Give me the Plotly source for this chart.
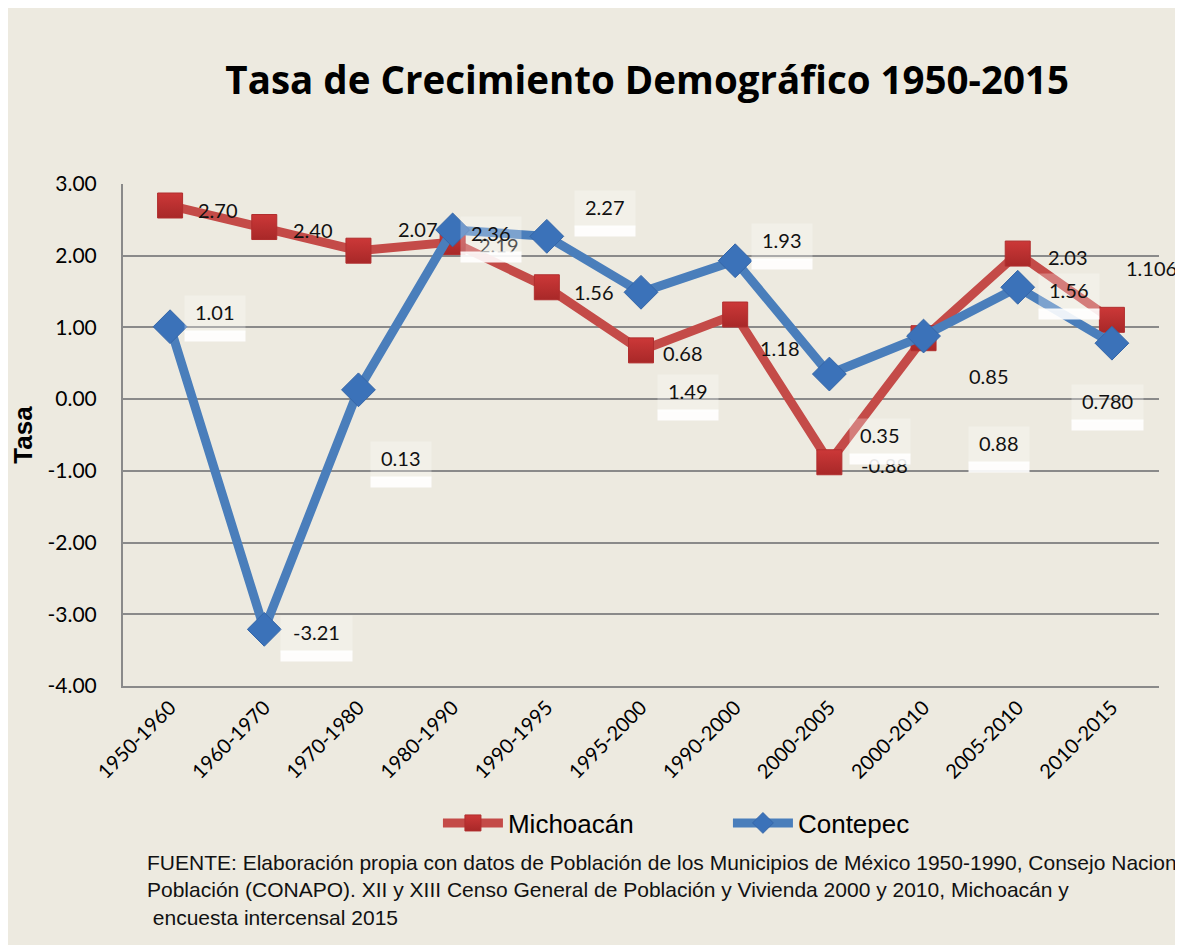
import plotly.graph_objects as go

categories = ["1950-1960", "1960-1970", "1970-1980", "1980-1990", "1990-1995",
              "1995-2000", "1990-2000", "2000-2005", "2000-2010", "2005-2010", "2010-2015"]
michoacan = [2.70, 2.40, 2.07, 2.19, 1.56, 0.68, 1.18, -0.88, 0.85, 2.03, 1.106]
contepec = [1.01, -3.21, 0.13, 2.36, 2.27, 1.49, 1.93, 0.35, 0.88, 1.56, 0.780]
michoacan_labels = ["2.70", "2.40", "2.07", "2.19", "1.56", "0.68", "1.18", "-0.88", "0.85", "2.03", "1.106"]
contepec_labels = ["1.01", "-3.21", "0.13", "2.36", "2.27", "1.49", "1.93", "0.35", "0.88", "1.56", "0.780"]
ytick_vals = [3, 2, 1, 0, -1, -2, -3, -4]
ytick_text = ["3.00", "2.00", "1.00", "0.00", "-1.00", "-2.00", "-3.00", "-4.00"]

# label placement offsets (pixels) relative to each point, as Excel placed them
mich_dx = [48, 49, 60, 46, 47, 42, 45, 55, 65, 50, 40]
mich_dy = [-4, -3, 22, -3, -5, -3, -33, -3, -38, -3, 52]
cont_dx = [45, 52, 43, 38, 58, 47, 47, 51, 75, 51, -4]
cont_dy = [15, -3, -68, -3, 29, -99, 21, -61, -107, -3, -58]

BG = "#EDEAE0"
RED_LINE = "#C44B48"
RED_MARK = "#CC3838"
BLUE_LINE = "#4A7EBB"
BLUE_MARK = "#3B72B9"
TICK_FONT = "Lato"

fig = go.Figure()
fig.add_trace(go.Scatter(
    x=categories, y=michoacan, name="Michoacán", mode="lines+markers",
    line=dict(color=RED_LINE, width=9),
    marker=dict(symbol="square", size=25, color=RED_MARK,
                line=dict(color="#B02E2E", width=1),
                gradient=dict(type="vertical", color="#A82828")),
))
fig.add_trace(go.Scatter(
    x=categories, y=contepec, name="Contepec", mode="lines+markers",
    line=dict(color=BLUE_LINE, width=9),
    marker=dict(symbol="diamond", size=26, color=BLUE_MARK,
                line=dict(color="#3566A8", width=1)),
))

annotations = []
for c, v, t, dx, dy in zip(categories, michoacan, michoacan_labels, mich_dx, mich_dy):
    annotations.append(dict(x=c, y=v, text=t, showarrow=False, xshift=dx, yshift=dy,
                            font=dict(family=TICK_FONT, size=20, color="#111")))
for c, v, t, dx, dy in zip(categories, contepec, contepec_labels, cont_dx, cont_dy):
    w = 14 + 11 * len(t)
    annotations.append(dict(x=c, y=v, text=" ", showarrow=False, xshift=dx, yshift=dy - 2,
                            width=w, height=34, bgcolor="rgba(255,255,255,0.28)",
                            font=dict(size=2)))
    annotations.append(dict(x=c, y=v, text=" ", showarrow=False, xshift=dx, yshift=dy - 24,
                            width=w, height=8, bgcolor="rgba(255,255,255,0.9)",
                            font=dict(size=2)))
    annotations.append(dict(x=c, y=v, text=t, showarrow=False, xshift=dx, yshift=dy,
                            font=dict(family=TICK_FONT, size=20, color="#111")))

annotations.append(dict(
    xref="paper", yref="paper", x=0.021, y=-0.325, xanchor="left", yanchor="top",
    align="left", showarrow=False,
    text=("FUENTE: Elaboración propia con datos de Población de los Municipios de México 1950-1990, Consejo Nacional de<br>"
          "Población (CONAPO). XII y XIII Censo General de Población y Vivienda 2000 y 2010, Michoacán y<br>"
          " encuesta intercensal 2015"),
    font=dict(family="Liberation Sans", size=21, color="#111"),
))

fig.update_layout(
    width=1175, height=937,
    paper_bgcolor=BG, plot_bgcolor=BG,
    margin=dict(l=115, r=24, t=176, b=259),
    title=dict(text="<b>Tasa de Crecimiento Demográfico 1950-2015</b>",
               x=0.544, xanchor="center", y=0.923, yanchor="middle",
               font=dict(family="Open Sans", size=38.5, color="#000")),
    showlegend=True,
    legend=dict(orientation="h", x=0.304, xanchor="left", y=-0.273, yanchor="middle",
                font=dict(family="Liberation Sans", size=26, color="#000"),
                bgcolor="rgba(0,0,0,0)", entrywidth=215, entrywidthmode="pixels",
                itemwidth=60),
    annotations=annotations,
)
fig.update_xaxes(
    type="category", tickangle=-45, showgrid=False, showline=True, linecolor="#8A8A8A",
    linewidth=2, tickfont=dict(family=TICK_FONT, size=20, color="#000"), ticks="",
    range=[-0.5, 10.5],
)
fig.update_yaxes(
    range=[-4, 3], tickvals=ytick_vals, ticktext=ytick_text, showgrid=True,
    gridcolor="#8A8A8A", gridwidth=2, zeroline=False, showline=True, linecolor="#8A8A8A",
    linewidth=2, tickfont=dict(family=TICK_FONT, size=21, color="#000"),
    ticks="", ticklabelstandoff=20,
    title=dict(text="<b>Tasa</b>", font=dict(family="Liberation Sans", size=26, color="#000"),
               standoff=8),
)

fig.write_html("out.html")
